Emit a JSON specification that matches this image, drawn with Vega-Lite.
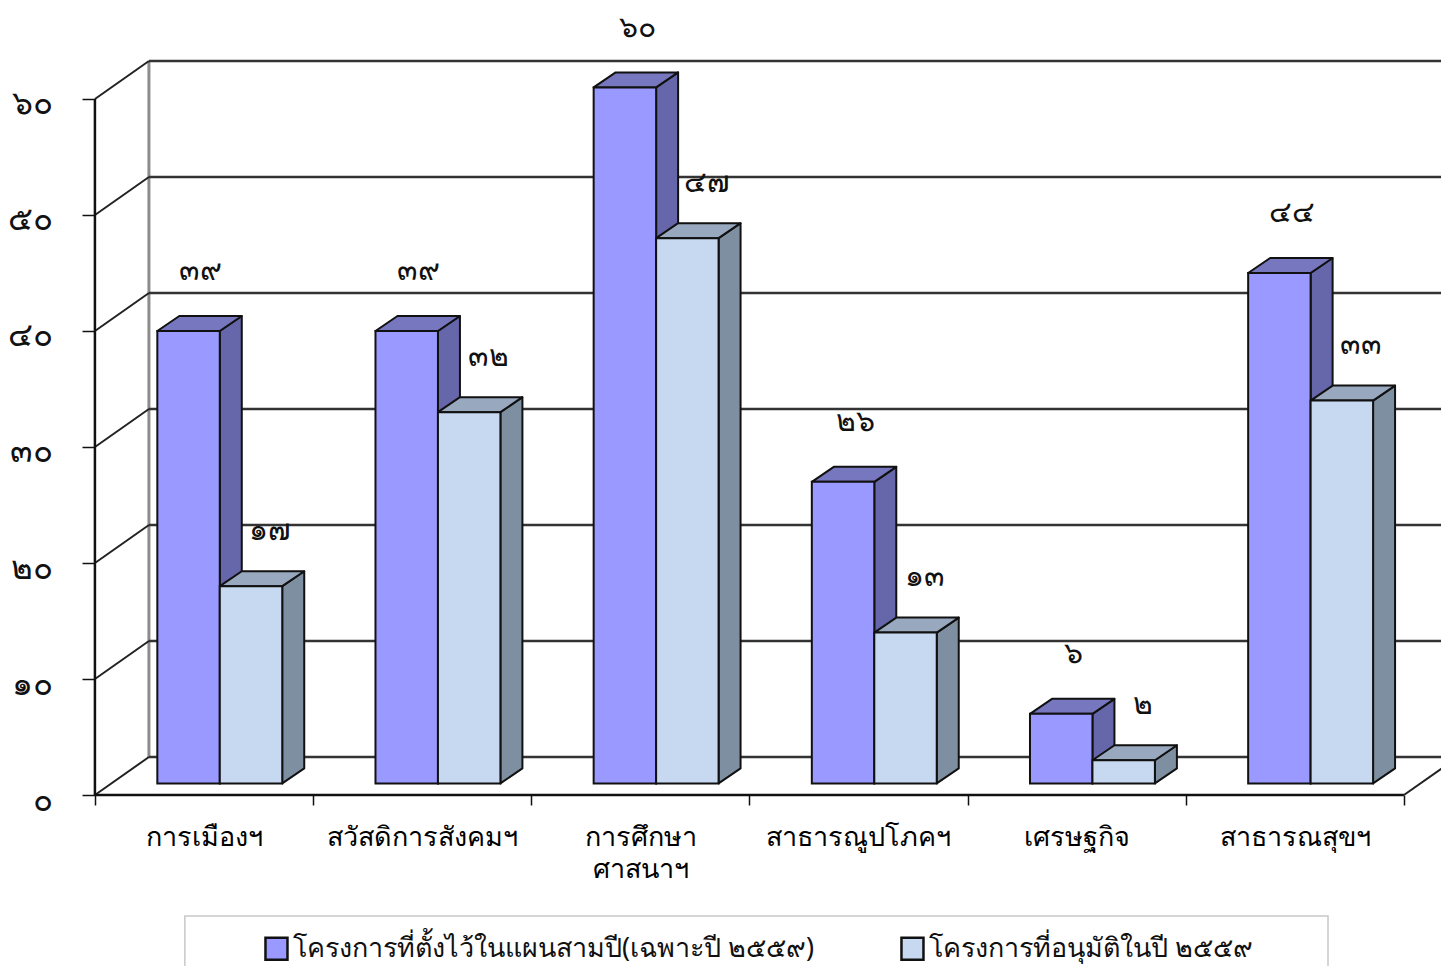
{
"$schema":"https://vega.github.io/schema/vega-lite/v6.json",
"width":1441,"height":966,"padding":0,"autosize":{"type":"none"},
"background":"white",
"config":{"view":{"stroke":null},"font":"Noto Sans"},
"datasets":{
"bars":[
{"category":"การเมืองฯ","series":"โครงการที่ตั้งไว้ในแผนสามปี(เฉพาะปี ๒๕๕๙)","value":39,"label":"๓๙"},
{"category":"สวัสดิการสังคมฯ","series":"โครงการที่ตั้งไว้ในแผนสามปี(เฉพาะปี ๒๕๕๙)","value":39,"label":"๓๙"},
{"category":"การศึกษา ศาสนาฯ","series":"โครงการที่ตั้งไว้ในแผนสามปี(เฉพาะปี ๒๕๕๙)","value":60,"label":"๖๐"},
{"category":"สาธารณูปโภคฯ","series":"โครงการที่ตั้งไว้ในแผนสามปี(เฉพาะปี ๒๕๕๙)","value":26,"label":"๒๖"},
{"category":"เศรษฐกิจ","series":"โครงการที่ตั้งไว้ในแผนสามปี(เฉพาะปี ๒๕๕๙)","value":6,"label":"๖"},
{"category":"สาธารณสุขฯ","series":"โครงการที่ตั้งไว้ในแผนสามปี(เฉพาะปี ๒๕๕๙)","value":44,"label":"๔๔"},
{"category":"การเมืองฯ","series":"โครงการที่อนุมัติในปี ๒๕๕๙","value":17,"label":"๑๗"},
{"category":"สวัสดิการสังคมฯ","series":"โครงการที่อนุมัติในปี ๒๕๕๙","value":32,"label":"๓๒"},
{"category":"การศึกษา ศาสนาฯ","series":"โครงการที่อนุมัติในปี ๒๕๕๙","value":47,"label":"๔๗"},
{"category":"สาธารณูปโภคฯ","series":"โครงการที่อนุมัติในปี ๒๕๕๙","value":13,"label":"๑๓"},
{"category":"เศรษฐกิจ","series":"โครงการที่อนุมัติในปี ๒๕๕๙","value":2,"label":"๒"},
{"category":"สาธารณสุขฯ","series":"โครงการที่อนุมัติในปี ๒๕๕๙","value":33,"label":"๓๓"}
],
"grid":[{"v":0},{"v":10},{"v":20},{"v":30},{"v":40},{"v":50},{"v":60}]
},
"layer":[
{"data":{"name":"grid"},"transform":[{"filter":"datum.v==0"}],"mark":{"type":"rect","fill":"white","stroke":"#c8c8c8","strokeWidth":1.5},
 "encoding":{"x":{"datum":0.4122,"type":"quantitative","scale":{"domain":[-0.43512,6.16994],"nice":false,"zero":false},"axis":{"values":[0,1,2,3,4,5,6],"orient":"bottom","offset":-171,"title":null,"grid":false,"domain":false,"tickColor":"#111111","tickSize":10,"tickWidth":1.5,"labelFont":"Noto Sans","labelFontSize":27,"labelColor":"#000000","labelOffset":109,"labelPadding":19,"labelFlush":false,"labelOverlap":false,"labelBound":false,"labelLimit":400,"labelLineHeight":32,"labelExpr":"datum.value==0?'การเมืองฯ':datum.value==1?'สวัสดิการสังคมฯ':datum.value==2?['การศึกษา','ศาสนาฯ']:datum.value==3?'สาธารณูปโภคฯ':datum.value==4?'เศรษฐกิจ':datum.value==5?'สาธารณสุขฯ':''"}},
 "x2":{"datum":5.652},
 "y":{"datum":-10.43,"type":"quantitative","scale":{"domain":[-14.741,68.534],"nice":false,"zero":false},"axis":{"values":[0,10,20,30,40,50,60],"orient":"left","offset":-95,"title":null,"grid":false,"domain":false,"tickColor":"#111111","tickSize":13,"tickWidth":1.5,"labelFont":"Noto Sans","labelFontSize":33,"labelColor":"#111111","labelPadding":30,"labelOffset":5,"labelOverlap":false,"labelBound":false,"labelExpr":"{'0':'๐','10':'๑๐','20':'๒๐','30':'๓๐','40':'๔๐','50':'๕๐','60':'๖๐'}[datum.value]"}},
 "y2":{"datum":-17}}},
{"data":{"name":"grid"},"transform":[{"filter":"datum.v==0"}],"mark":{"type":"rule","stroke":"#8c8c8c","strokeWidth":3,"xOffset":54,"yOffset":-38,"y2Offset":-38},
 "encoding":{"x":{"datum":0},"y":{"datum":0},"y2":{"datum":60}}},
{"data":{"name":"grid"},"mark":{"type":"rule","stroke":"#333333","strokeWidth":2.5,"xOffset":54,"yOffset":-38},
 "encoding":{"x":{"datum":0},"x2":{"datum":7},"y":{"field":"v","type":"quantitative"}}},
{"data":{"name":"grid"},"mark":{"type":"rule","stroke":"#222222","strokeWidth":2,"x2Offset":54,"y2Offset":-38},
 "encoding":{"x":{"datum":0},"x2":{"datum":0},"y":{"field":"v","type":"quantitative"},"y2":{"field":"v"}}},
{"data":{"name":"grid"},"transform":[{"filter":"datum.v==0"}],"mark":{"type":"rule","stroke":"#222222","strokeWidth":2,"x2Offset":54,"y2Offset":-38},
 "encoding":{"x":{"datum":6},"x2":{"datum":6},"y":{"datum":0},"y2":{"datum":0}}},
{"data":{"name":"grid"},"transform":[{"filter":"datum.v==0"}],"mark":{"type":"rule","stroke":"#111111","strokeWidth":2.5},
 "encoding":{"x":{"datum":0},"x2":{"datum":0},"y":{"datum":0},"y2":{"datum":60}}},
{"data":{"name":"grid"},"transform":[{"filter":"datum.v==0"}],"mark":{"type":"rule","stroke":"#111111","strokeWidth":2.5},
 "encoding":{"x":{"datum":0},"x2":{"datum":6},"y":{"datum":0}}},
{"data":{"name":"bars"},
 "transform":[
  {"calculate":"indexof(['การเมืองฯ','สวัสดิการสังคมฯ','การศึกษา ศาสนาฯ','สาธารณูปโภคฯ','เศรษฐกิจ','สาธารณสุขฯ'],datum.category)","as":"c"},
  {"calculate":"indexof(datum.series,'อนุมัติ')>=0?1:0","as":"s"},
  {"calculate":"datum.c+0.286+0.2863*(datum.s+1)","as":"xr"},
  {"calculate":"[0,1]","as":"k"},
  {"flatten":["k"]},
  {"calculate":"datum.xr+datum.k*0.1008","as":"vx"},
  {"calculate":"datum.value+1.0+datum.k*1.293","as":"vy"},
  {"calculate":"1.0+datum.k*1.293","as":"vy2"},
  {"calculate":"'side'+datum.s","as":"face"},
  {"calculate":"datum.c+'-'+datum.s","as":"bar"}
 ],
 "mark":{"type":"area","stroke":"#111111","strokeWidth":2,"strokeJoin":"round"},
 "encoding":{"x":{"field":"vx","type":"quantitative"},"y":{"field":"vy","type":"quantitative"},"y2":{"field":"vy2"},"detail":{"field":"bar"},
  "fill":{"field":"face","type":"nominal","legend":null,"scale":{"domain":["side0","side1","top0","top1"],"range":["#6666AA","#7F8FA2","#7777C0","#98A8BE"]}}}},
{"data":{"name":"bars"},
 "transform":[
  {"calculate":"indexof(['การเมืองฯ','สวัสดิการสังคมฯ','การศึกษา ศาสนาฯ','สาธารณูปโภคฯ','เศรษฐกิจ','สาธารณสุขฯ'],datum.category)","as":"c"},
  {"calculate":"indexof(datum.series,'อนุมัติ')>=0?1:0","as":"s"},
  {"calculate":"datum.c+0.286+0.2863*datum.s","as":"xl"},
  {"calculate":"datum.value+1.0","as":"t"},
  {"calculate":"[0,1,2,3]","as":"k"},
  {"flatten":["k"]},
  {"calculate":"datum.xl+[0,0.1008,0.2863,0.3871][datum.k]","as":"vx"},
  {"calculate":"datum.t+[0,1.293,1.293,1.293][datum.k]","as":"vy"},
  {"calculate":"datum.t+[0,0,0,1.293][datum.k]","as":"vy2"},
  {"calculate":"'top'+datum.s","as":"face"},
  {"calculate":"datum.c+'-'+datum.s","as":"bar"}
 ],
 "mark":{"type":"area","stroke":"#111111","strokeWidth":2,"strokeJoin":"round"},
 "encoding":{"x":{"field":"vx","type":"quantitative"},"y":{"field":"vy","type":"quantitative"},"y2":{"field":"vy2"},"detail":{"field":"bar"},
  "fill":{"field":"face","type":"nominal","legend":null}}},
{"data":{"name":"bars"},
 "transform":[
  {"calculate":"indexof(['การเมืองฯ','สวัสดิการสังคมฯ','การศึกษา ศาสนาฯ','สาธารณูปโภคฯ','เศรษฐกิจ','สาธารณสุขฯ'],datum.category)","as":"c"},
  {"calculate":"indexof(datum.series,'อนุมัติ')>=0?1:0","as":"s"},
  {"calculate":"datum.c+0.286+0.2863*datum.s","as":"xl"},
  {"calculate":"datum.xl+0.2863","as":"xr"},
  {"calculate":"datum.value+1.0","as":"t"},
  {"calculate":"1.0","as":"b"}
 ],
 "mark":{"type":"rect","stroke":"#111111","strokeWidth":2},
 "encoding":{"x":{"field":"xl","type":"quantitative"},"x2":{"field":"xr"},"y":{"field":"t","type":"quantitative"},"y2":{"field":"b"},
  "color":{"field":"series","type":"nominal","scale":{"domain":["โครงการที่ตั้งไว้ในแผนสามปี(เฉพาะปี ๒๕๕๙)","โครงการที่อนุมัติในปี ๒๕๕๙"],"range":["#9999FF","#C6D9F0"]},
   "legend":{"orient":"none","legendX":244,"legendY":916,"direction":"horizontal","title":null,"symbolType":"square","symbolSize":484,"symbolStrokeColor":"#111111","symbolStrokeWidth":2.5,"labelFont":"Noto Sans","labelFontSize":26.95,"labelColor":"#111111","labelLimit":700,"padding":19,"columnPadding":81,"labelOffset":3}}}},
{"data":{"name":"bars"},
 "transform":[
  {"calculate":"indexof(['การเมืองฯ','สวัสดิการสังคมฯ','การศึกษา ศาสนาฯ','สาธารณูปโภคฯ','เศรษฐกิจ','สาธารณสุขฯ'],datum.category)","as":"c"},
  {"calculate":"indexof(datum.series,'อนุมัติ')>=0?1:0","as":"s"},
  {"calculate":"datum.c+0.284+0.2863*(datum.s+0.5)+(datum.s==1?0.09:0.058)","as":"lx"},
  {"calculate":"datum.value+1.03+(datum.s==1?4.75:5.1)","as":"ly"}
 ],
 "mark":{"type":"text","font":"Noto Sans","fontSize":30,"fill":"#111111","align":"center","baseline":"middle"},
 "encoding":{"x":{"field":"lx","type":"quantitative"},"y":{"field":"ly","type":"quantitative"},"text":{"field":"label"}}}
]
}
